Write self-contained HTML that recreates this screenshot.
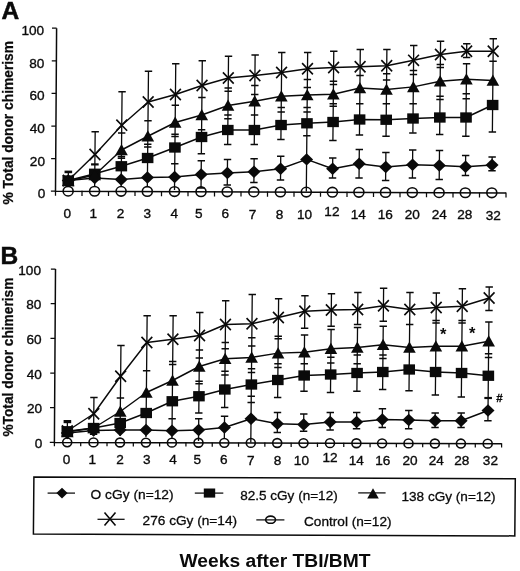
<!DOCTYPE html>
<html><head><meta charset="utf-8"><title>Figure</title>
<style>html,body{margin:0;padding:0;background:#fff;}body{width:520px;height:571px;overflow:hidden;}svg{display:block;will-change:transform;opacity:0.999;}text{font-family:"Liberation Sans",sans-serif;fill:#0a0a0a;}.tk{font-size:13.6px;stroke:#0a0a0a;stroke-width:0.35px;}.lg{font-size:13.5px;stroke:#0a0a0a;stroke-width:0.3px;}.ax{stroke:#0a0a0a;stroke-width:1.5;fill:none;}.ln{stroke:#0a0a0a;stroke-width:1.45;fill:none;stroke-linejoin:round;}.eb{stroke:#0a0a0a;stroke-width:1.3;fill:none;}.cp{stroke:#0a0a0a;stroke-width:1.5;fill:none;}.mk{fill:#0a0a0a;stroke:none;}.xm{stroke:#0a0a0a;stroke-width:1.6;fill:none;}.cm{fill:none;stroke:#0a0a0a;stroke-width:1.6;}</style></head><body>
<svg width="520" height="571" viewBox="0 0 520 571">
<rect x="0" y="0" width="520" height="571" fill="#fff"/>
<g id="panelA">
<path d="M64.54 171.9L72.14 171.9" stroke="#0a0a0a" stroke-width="2.6" fill="none"/>
<path d="M91.06 164.4L98.66 164.4" stroke="#0a0a0a" stroke-width="2.2" fill="none"/>
<path class="eb" d="M68.34 171.9L68.2 186M95.18 131.75L94.65 186M122.07 91.75L121.15 186M148.48 71.25L147.35 186M175.75 63.75L174.51 190M202.28 60.75L201.37 153.75M201.3 160.75L201.03 188M228.52 56.25L227.66 144.5M227.51 159.5L227.26 185M255.13 55L254.26 144.5M254.12 158.75L253.89 182.5M281.76 52.5L280.91 139.5M280.74 156.25L280.51 180M307.66 52.5L306.3 191.5M333.77 51.25L332.9 140.5M332.73 158L332.53 178M360.29 49.5L359.45 135M359.31 149.5L359.03 178M386.89 49.5L386.04 136.25M385.88 152.5L385.6 180.5M413.73 45.4L412.87 132.7M412.7 150L412.43 178M440.57 41.25L439.66 134.5M439.5 150.5L439.21 179.5M466.75 43.75L466.61 57.5M466.55 63.75L465.84 136.25M465.65 155.5L465.45 175.5M493.29 38.75L492.38 132M492.14 157L492 170.75"/>
<path class="cp" d="M91.48 131.75L98.88 131.75M118.37 91.75L125.77 91.75M117.97 133L125.37 133M117.74 156.5L125.14 156.5M117.72 158.3L125.12 158.3M144.78 71.25L152.18 71.25M144.29 120.8L151.69 120.8M144.06 144.2L151.46 144.2M144.03 147.1L151.43 147.1M172.05 63.75L179.45 63.75M171.64 105.2L179.04 105.2M171.36 134.3L178.76 134.3M171.34 136.6L178.74 136.6M171.07 163.75L178.47 163.75M198.58 60.75L205.98 60.75M198.22 97.5L205.62 97.5M197.9 129.7L205.3 129.7M197.67 153.75L205.07 153.75M197.6 160.75L205 160.75M197.33 188L204.73 188M224.82 56.25L232.22 56.25M224.51 88L231.91 88M224.48 91.25L231.88 91.25M224.25 115L231.65 115M224.21 118.75L231.61 118.75M223.96 144.5L231.36 144.5M223.81 159.5L231.21 159.5M223.56 185L230.96 185M251.43 55L258.83 55M251.14 85.5L258.54 85.5M251.05 94.5L258.45 94.5M250.85 115L258.25 115M250.56 144.5L257.96 144.5M250.42 158.75L257.82 158.75M250.19 182.5L257.59 182.5M278.06 52.5L285.46 52.5M277.52 107.5L284.92 107.5M277.48 112L284.88 112M277.21 139.5L284.61 139.5M277.04 156.25L284.44 156.25M276.81 180L284.21 180M303.96 52.5L311.36 52.5M303.69 79.5L311.09 79.5M303.62 87.5L311.02 87.5M303.42 107.5L310.82 107.5M303.38 112L310.78 112M303.14 135.75L310.54 135.75M330.07 51.25L337.47 51.25M329.78 81.25L337.18 81.25M329.75 84.5L337.15 84.5M329.56 103.75L336.96 103.75M329.53 106.25L336.93 106.25M329.2 140.5L336.6 140.5M329.03 158L336.43 158M328.83 178L336.23 178M356.59 49.5L363.99 49.5M356.33 75.5L363.73 75.5M356.06 103.75L363.46 103.75M355.75 135L363.15 135M355.61 149.5L363.01 149.5M355.33 178L362.73 178M383.19 49.5L390.59 49.5M382.95 73.75L390.35 73.75M382.89 80L390.29 80M382.66 103.75L390.06 103.75M382.34 136.25L389.74 136.25M382.18 152.5L389.58 152.5M381.9 180.5L389.3 180.5M410.03 45.4L417.43 45.4M409.78 70.6L417.18 70.6M409.74 74.4L417.14 74.4M409.46 103.7L416.86 103.7M409.17 132.9L416.57 132.9M409 150L416.4 150M408.73 178L416.13 178M436.87 41.25L444.27 41.25M436.64 64.5L444.04 64.5M436.61 67.5L444.01 67.5M436.33 96.25L443.73 96.25M436.3 99.5L443.7 99.5M435.96 134.5L443.36 134.5M435.8 150.5L443.2 150.5M435.51 179.5L442.91 179.5M463.05 43.75L470.45 43.75M462.91 57.5L470.31 57.5M462.85 63.75L470.25 63.75M462.56 93.75L469.96 93.75M462.51 98.75L469.91 98.75M462.14 136.25L469.54 136.25M461.95 155.5L469.35 155.5M461.75 175.5L469.15 175.5M489.59 38.75L496.99 38.75M489.37 61.25L496.77 61.25M488.68 132L496.08 132M488.44 157L495.84 157M488.3 170.75L495.7 170.75"/>
<path class="ax" d="M56.6 28.2L55.5 191.2L506 193"/>
<path class="ax" style="stroke-width:1.25" d="M50.9 191.2L55.5 191.2M51.12 158.6L55.72 158.6M51.34 126L55.94 126M51.56 93.4L56.16 93.4M51.78 60.8L56.38 60.8M52 28.2L56.6 28.2M55.5 190.7L55.5 195.8M82 190.81L82 195.91M108.5 190.91L108.5 196.01M135 191.02L135 196.12M161.5 191.12L161.5 196.22M188 191.23L188 196.33M214.5 191.34L214.5 196.44M241 191.44L241 196.54M267.5 191.55L267.5 196.65M294 191.65L294 196.75M320.5 191.76L320.5 196.86M347 191.86L347 196.96M373.5 191.97L373.5 197.07M400 192.08L400 197.18M426.5 192.18L426.5 197.28M453 192.29L453 197.39M479.5 192.39L479.5 197.49M506 192.5L506 197.6"/>
<text class="tk" x="45.2" y="198.1" text-anchor="end">0</text>
<text class="tk" x="44.98" y="165.5" text-anchor="end">20</text>
<text class="tk" x="44.76" y="132.9" text-anchor="end">40</text>
<text class="tk" x="44.54" y="100.3" text-anchor="end">60</text>
<text class="tk" x="44.32" y="67.7" text-anchor="end">80</text>
<text class="tk" x="44.1" y="35.1" text-anchor="end">100</text>
<text class="tk" x="67.3" y="217.85" text-anchor="middle">0</text>
<text class="tk" x="93.2" y="217.95" text-anchor="middle">1</text>
<text class="tk" x="120.5" y="218.06" text-anchor="middle">2</text>
<text class="tk" x="147.4" y="218.17" text-anchor="middle">3</text>
<text class="tk" x="174.4" y="218.28" text-anchor="middle">4</text>
<text class="tk" x="198.9" y="218.37" text-anchor="middle">5</text>
<text class="tk" x="225.2" y="218.48" text-anchor="middle">6</text>
<text class="tk" x="252.5" y="218.59" text-anchor="middle">7</text>
<text class="tk" x="279.5" y="218.7" text-anchor="middle">8</text>
<text class="tk" x="304.6" y="218.8" text-anchor="middle">10</text>
<text class="tk" x="331.9" y="215.6" text-anchor="middle">12</text>
<text class="tk" x="358.2" y="219.01" text-anchor="middle">14</text>
<text class="tk" x="385.3" y="219.12" text-anchor="middle">16</text>
<text class="tk" x="412.3" y="219.23" text-anchor="middle">20</text>
<text class="tk" x="439.3" y="219.33" text-anchor="middle">24</text>
<text class="tk" x="464.8" y="219.44" text-anchor="middle">28</text>
<text class="tk" x="493.3" y="219.55" text-anchor="middle">32</text>
<polyline class="ln" points="68.25,180.5 94.73,178 121.21,179.5 147.43,177.5 174.64,177 201.16,174.5 227.38,173 253.99,171.75 280.62,168.75 306.61,159.4 332.62,168.75 359.17,163.75 385.74,167 412.56,164.7 439.35,165.5 465.54,166.75 492.06,165"/>
<path class="mk" d="M61.75 180.5L68.25 174.3L74.75 180.5L68.25 186.7Z"/>
<path class="mk" d="M88.23 178L94.73 171.8L101.23 178L94.73 184.2Z"/>
<path class="mk" d="M114.71 179.5L121.21 173.3L127.71 179.5L121.21 185.7Z"/>
<path class="mk" d="M140.93 177.5L147.43 171.3L153.93 177.5L147.43 183.7Z"/>
<path class="mk" d="M168.14 177L174.64 170.8L181.14 177L174.64 183.2Z"/>
<path class="mk" d="M194.66 174.5L201.16 168.3L207.66 174.5L201.16 180.7Z"/>
<path class="mk" d="M220.88 173L227.38 166.8L233.88 173L227.38 179.2Z"/>
<path class="mk" d="M247.49 171.75L253.99 165.55L260.49 171.75L253.99 177.95Z"/>
<path class="mk" d="M274.12 168.75L280.62 162.55L287.12 168.75L280.62 174.95Z"/>
<path class="mk" d="M300.11 159.4L306.61 153.2L313.11 159.4L306.61 165.6Z"/>
<path class="mk" d="M326.12 168.75L332.62 162.55L339.12 168.75L332.62 174.95Z"/>
<path class="mk" d="M352.67 163.75L359.17 157.55L365.67 163.75L359.17 169.95Z"/>
<path class="mk" d="M379.24 167L385.74 160.8L392.24 167L385.74 173.2Z"/>
<path class="mk" d="M406.06 164.7L412.56 158.5L419.06 164.7L412.56 170.9Z"/>
<path class="mk" d="M432.85 165.5L439.35 159.3L445.85 165.5L439.35 171.7Z"/>
<path class="mk" d="M459.04 166.75L465.54 160.55L472.04 166.75L465.54 172.95Z"/>
<path class="mk" d="M485.56 165L492.06 158.8L498.56 165L492.06 171.2Z"/>
<polyline class="ln" points="68.25,180.5 94.77,173.75 121.34,166.25 147.63,158 174.93,147.5 201.53,137 227.8,130 254.4,130 281.05,125 306.97,123.3 333.08,122 359.6,119.5 386.2,119.75 413.01,118.5 439.82,117.5 466.02,117.5 492.64,105"/>
<rect class="mk" x="62.45" y="175.35" width="11.6" height="10.3"/>
<rect class="mk" x="88.97" y="168.6" width="11.6" height="10.3"/>
<rect class="mk" x="115.54" y="161.1" width="11.6" height="10.3"/>
<rect class="mk" x="141.83" y="152.85" width="11.6" height="10.3"/>
<rect class="mk" x="169.13" y="142.35" width="11.6" height="10.3"/>
<rect class="mk" x="195.73" y="131.85" width="11.6" height="10.3"/>
<rect class="mk" x="222" y="124.85" width="11.6" height="10.3"/>
<rect class="mk" x="248.6" y="124.85" width="11.6" height="10.3"/>
<rect class="mk" x="275.25" y="119.85" width="11.6" height="10.3"/>
<rect class="mk" x="301.17" y="118.15" width="11.6" height="10.3"/>
<rect class="mk" x="327.28" y="116.85" width="11.6" height="10.3"/>
<rect class="mk" x="353.8" y="114.35" width="11.6" height="10.3"/>
<rect class="mk" x="380.4" y="114.6" width="11.6" height="10.3"/>
<rect class="mk" x="407.21" y="113.35" width="11.6" height="10.3"/>
<rect class="mk" x="434.02" y="112.35" width="11.6" height="10.3"/>
<rect class="mk" x="460.22" y="112.35" width="11.6" height="10.3"/>
<rect class="mk" x="486.84" y="99.85" width="11.6" height="10.3"/>
<polyline class="ln" points="68.25,181 94.76,175 121.5,150 147.84,136.25 175.17,122.5 201.75,115 228.04,105.5 254.68,101.25 281.33,96.25 307.24,95 333.35,94.25 359.91,88 386.5,89.5 413.32,86.9 440.18,81.25 466.4,79.25 492.88,80.5"/>
<path class="mk" d="M68.25 175.1L74.55 186.3L61.95 186.3Z"/>
<path class="mk" d="M94.76 169.1L101.06 180.3L88.46 180.3Z"/>
<path class="mk" d="M121.5 144.1L127.8 155.3L115.2 155.3Z"/>
<path class="mk" d="M147.84 130.35L154.14 141.55L141.54 141.55Z"/>
<path class="mk" d="M175.17 116.6L181.47 127.8L168.87 127.8Z"/>
<path class="mk" d="M201.75 109.1L208.05 120.3L195.45 120.3Z"/>
<path class="mk" d="M228.04 99.6L234.34 110.8L221.74 110.8Z"/>
<path class="mk" d="M254.68 95.35L260.98 106.55L248.38 106.55Z"/>
<path class="mk" d="M281.33 90.35L287.63 101.55L275.03 101.55Z"/>
<path class="mk" d="M307.24 89.1L313.54 100.3L300.94 100.3Z"/>
<path class="mk" d="M333.35 88.35L339.65 99.55L327.05 99.55Z"/>
<path class="mk" d="M359.91 82.1L366.21 93.3L353.61 93.3Z"/>
<path class="mk" d="M386.5 83.6L392.8 94.8L380.2 94.8Z"/>
<path class="mk" d="M413.32 81L419.62 92.2L407.02 92.2Z"/>
<path class="mk" d="M440.18 75.35L446.48 86.55L433.88 86.55Z"/>
<path class="mk" d="M466.4 73.35L472.7 84.55L460.1 84.55Z"/>
<path class="mk" d="M492.88 74.6L499.18 85.8L486.58 85.8Z"/>
<polyline class="ln" points="68.25,180.5 94.96,154.5 121.75,125.2 148.17,102 175.45,94.5 202.04,85.5 228.31,78 254.93,75.5 281.56,72.5 307.5,68.75 333.61,67.5 360.12,66.75 386.73,65.75 413.58,60.3 440.44,54.5 466.67,51.25 493.17,51.25"/>
<path class="xm" d="M62.85 174.9L73.65 186.1M73.65 174.9L62.85 186.1"/>
<path class="xm" d="M89.56 148.9L100.36 160.1M100.36 148.9L89.56 160.1"/>
<path class="xm" d="M116.35 119.6L127.15 130.8M127.15 119.6L116.35 130.8"/>
<path class="xm" d="M142.77 96.4L153.57 107.6M153.57 96.4L142.77 107.6"/>
<path class="xm" d="M170.05 88.9L180.85 100.1M180.85 88.9L170.05 100.1"/>
<path class="xm" d="M196.64 79.9L207.44 91.1M207.44 79.9L196.64 91.1"/>
<path class="xm" d="M222.91 72.4L233.71 83.6M233.71 72.4L222.91 83.6"/>
<path class="xm" d="M249.53 69.9L260.33 81.1M260.33 69.9L249.53 81.1"/>
<path class="xm" d="M276.16 66.9L286.96 78.1M286.96 66.9L276.16 78.1"/>
<path class="xm" d="M302.1 63.15L312.9 74.35M312.9 63.15L302.1 74.35"/>
<path class="xm" d="M328.21 61.9L339.01 73.1M339.01 61.9L328.21 73.1"/>
<path class="xm" d="M354.72 61.15L365.52 72.35M365.52 61.15L354.72 72.35"/>
<path class="xm" d="M381.33 60.15L392.13 71.35M392.13 60.15L381.33 71.35"/>
<path class="xm" d="M408.18 54.7L418.98 65.9M418.98 54.7L408.18 65.9"/>
<path class="xm" d="M435.04 48.9L445.84 60.1M445.84 48.9L435.04 60.1"/>
<path class="xm" d="M461.27 45.65L472.07 56.85M472.07 45.65L461.27 56.85"/>
<path class="xm" d="M487.77 45.65L498.57 56.85M498.57 45.65L487.77 56.85"/>
<ellipse class="cm" cx="68.15" cy="191.15" rx="5" ry="4.8"/>
<ellipse class="cm" cx="94.6" cy="191.26" rx="5" ry="4.8"/>
<ellipse class="cm" cx="121.1" cy="191.36" rx="5" ry="4.8"/>
<ellipse class="cm" cx="147.3" cy="191.47" rx="5" ry="4.8"/>
<ellipse class="cm" cx="174.5" cy="191.58" rx="5" ry="4.8"/>
<ellipse class="cm" cx="201" cy="191.68" rx="5" ry="4.8"/>
<ellipse class="cm" cx="227.2" cy="191.79" rx="5" ry="4.8"/>
<ellipse class="cm" cx="253.8" cy="191.89" rx="5" ry="4.8"/>
<ellipse class="cm" cx="280.4" cy="192" rx="5" ry="4.8"/>
<ellipse class="cm" cx="306.3" cy="192.1" rx="5" ry="4.8"/>
<ellipse class="cm" cx="332.4" cy="192.21" rx="5" ry="4.8"/>
<ellipse class="cm" cx="358.9" cy="192.31" rx="5" ry="4.8"/>
<ellipse class="cm" cx="385.5" cy="192.42" rx="5" ry="4.8"/>
<ellipse class="cm" cx="412.3" cy="192.53" rx="5" ry="4.8"/>
<ellipse class="cm" cx="439.1" cy="192.63" rx="5" ry="4.8"/>
<ellipse class="cm" cx="465.3" cy="192.74" rx="5" ry="4.8"/>
<ellipse class="cm" cx="491.8" cy="192.84" rx="5" ry="4.8"/>
</g>
<g id="panelB">
<path d="M63.6 421.6L71.2 421.6" stroke="#0a0a0a" stroke-width="3.2" fill="none"/>
<path d="M484.34 398L491.94 398" stroke="#0a0a0a" stroke-width="2.2" fill="none"/>
<path class="eb" d="M67.4 421.6L67.24 438M93.94 397.4L93.56 436M120.95 345.5L120.06 436M147.14 315.75L145.95 437M173.14 315.75L171.94 438M199.77 312.5L198.79 413M198.73 418.75L198.51 441M225.69 300.75L224.64 407.5M224.56 416.25L224.33 439M252.25 294.5L250.8 442.5M278.61 298.75L277.64 397.5M277.49 412.5L277.3 432.5M304.94 295.75L304.62 328.25M304.55 335L304 391.25M303.78 414L303.61 431.25M331.46 293.75L331.14 326.25M331.11 329.5L330.49 392.5M330.29 412.5L330.12 430M357.87 292.5L357.56 324.5M357.53 327.5L356.9 391.25M356.69 412.5L356.53 428.75M383.61 288.25L383.29 321.25M383.24 326.25L382.62 389.5M382.43 408.75L382.25 427.5M409.97 292.5L409.01 390.75M408.81 410.5L408.63 428.75M436.36 293L435.36 395M435.19 413L435.05 427.5M462.41 288.75L461.34 397M461.19 413L461.05 427.5M489.22 287L488.99 310.5M488.88 322L487.91 420.75"/>
<path class="cp" d="M90.24 397.4L97.64 397.4M89.88 434.2L97.28 434.2M117.25 345.5L124.65 345.5M116.73 398.1L124.13 398.1M143.44 315.75L150.84 315.75M142.9 370.75L150.3 370.75M169.44 315.75L176.84 315.75M168.99 361.5L176.39 361.5M168.96 364.5L176.36 364.5M168.43 418.75L175.83 418.75M196.07 312.5L203.47 312.5M195.71 350L203.11 350M195.63 358L203.03 358M195.4 381.25L202.8 381.25M195.37 383.75L202.77 383.75M195.09 413L202.49 413M195.03 418.75L202.43 418.75M221.99 300.75L229.39 300.75M221.58 342.5L228.98 342.5M221.52 348.75L228.92 348.75M221.3 371.25L228.7 371.25M221.26 375L228.66 375M220.94 407.5L228.34 407.5M220.86 416.25L228.26 416.25M248.55 294.5L255.95 294.5M248.13 337.8L255.53 337.8M248.04 346L255.44 346M247.82 368.7L255.22 368.7M247.79 372.5L255.19 372.5M247.55 396.25L254.95 396.25M247.49 402.5L254.89 402.5M274.91 298.75L282.31 298.75M274.54 336.25L281.94 336.25M274.52 338.75L281.92 338.75M274.27 363.75L281.67 363.75M274.23 367.5L281.63 367.5M273.94 397.5L281.34 397.5M273.79 412.5L281.19 412.5M273.6 432.5L281 432.5M301.24 295.75L308.64 295.75M300.92 328.25L308.32 328.25M300.85 335L308.25 335M300.57 363.75L307.97 363.75M300.3 391.25L307.7 391.25M300.08 414L307.48 414M299.91 431.25L307.31 431.25M327.76 293.75L335.16 293.75M327.44 326.25L334.84 326.25M327.41 329.5L334.81 329.5M327.13 357.3L334.53 357.3M327.08 363L334.48 363M326.79 392.5L334.19 392.5M326.59 412.5L333.99 412.5M326.42 430L333.82 430M354.17 292.5L361.57 292.5M353.86 324.5L361.26 324.5M353.83 327.5L361.23 327.5M353.56 355L360.96 355M353.47 363.75L360.87 363.75M353.2 391.25L360.6 391.25M352.99 412.5L360.39 412.5M352.83 428.75L360.23 428.75M379.91 288.25L387.31 288.25M379.59 321.25L386.99 321.25M379.54 326.25L386.94 326.25M379.26 355L386.66 355M379.22 358.5L386.62 358.5M378.92 389.5L386.32 389.5M378.73 408.75L386.13 408.75M378.55 427.5L385.95 427.5M406.27 292.5L413.67 292.5M405.96 324.5L413.36 324.5M405.31 390.75L412.71 390.75M405.11 410.5L412.51 410.5M404.93 428.75L412.33 428.75M432.66 293L440.06 293M432.39 320.5L439.79 320.5M432.37 323L439.77 323M431.66 395L439.06 395M431.49 413L438.89 413M431.35 427.5L438.75 427.5M458.71 288.75L466.11 288.75M458.39 320.5L465.79 320.5M458.37 323L465.77 323M457.64 397L465.04 397M457.49 413L464.89 413M457.35 427.5L464.75 427.5M485.52 287L492.92 287M485.29 310.5L492.69 310.5M485.18 322L492.58 322M484.87 353.75L492.27 353.75M484.83 357.5L492.23 357.5M484.21 420.75L491.61 420.75"/>
<path class="ax" d="M55.5 269L54.4 442.4L501.6 443.8"/>
<path class="ax" style="stroke-width:1.25" d="M49.8 442.4L54.4 442.4M50.02 407.72L54.62 407.72M50.24 373.04L54.84 373.04M50.46 338.36L55.06 338.36M50.68 303.68L55.28 303.68M50.9 269L55.5 269M54.4 441.9L54.4 446.2M80.71 441.98L80.71 446.28M107.01 442.06L107.01 446.36M133.32 442.15L133.32 446.45M159.62 442.23L159.62 446.53M185.93 442.31L185.93 446.61M212.24 442.39L212.24 446.69M238.54 442.48L238.54 446.78M264.85 442.56L264.85 446.86M291.15 442.64L291.15 446.94M317.46 442.72L317.46 447.02M343.76 442.81L343.76 447.11M370.07 442.89L370.07 447.19M396.38 442.97L396.38 447.27M422.68 443.05L422.68 447.35M448.99 443.14L448.99 447.44M475.29 443.22L475.29 447.52M501.6 443.3L501.6 447.6"/>
<text class="tk" x="42.4" y="448.1" text-anchor="end">0</text>
<text class="tk" x="42.12" y="413.42" text-anchor="end">20</text>
<text class="tk" x="41.84" y="378.74" text-anchor="end">40</text>
<text class="tk" x="41.56" y="344.06" text-anchor="end">60</text>
<text class="tk" x="41.28" y="309.38" text-anchor="end">80</text>
<text class="tk" x="41" y="274.7" text-anchor="end">100</text>
<text class="tk" x="66.6" y="463.94" text-anchor="middle">0</text>
<text class="tk" x="92.3" y="464.02" text-anchor="middle">1</text>
<text class="tk" x="120" y="464.11" text-anchor="middle">2</text>
<text class="tk" x="146.7" y="464.19" text-anchor="middle">3</text>
<text class="tk" x="173" y="464.27" text-anchor="middle">4</text>
<text class="tk" x="197.2" y="464.35" text-anchor="middle">5</text>
<text class="tk" x="223.9" y="464.43" text-anchor="middle">6</text>
<text class="tk" x="250.8" y="464.51" text-anchor="middle">7</text>
<text class="tk" x="277.5" y="464.6" text-anchor="middle">8</text>
<text class="tk" x="301.4" y="464.67" text-anchor="middle">10</text>
<text class="tk" x="330" y="462.16" text-anchor="middle">12</text>
<text class="tk" x="356.3" y="464.85" text-anchor="middle">14</text>
<text class="tk" x="382.8" y="464.93" text-anchor="middle">16</text>
<text class="tk" x="410" y="465.01" text-anchor="middle">20</text>
<text class="tk" x="436.3" y="465.1" text-anchor="middle">24</text>
<text class="tk" x="461.8" y="465.18" text-anchor="middle">28</text>
<text class="tk" x="490.4" y="465.26" text-anchor="middle">32</text>
<polyline class="ln" points="67.29,433 93.62,430.5 120.12,430 146.02,430 172.01,430.75 198.62,430 224.45,427.5 251.03,418.75 277.38,423.75 303.68,424.5 330.2,422 356.6,422 382.32,419.5 408.72,420 435.11,420.75 461.11,420.75 488.01,410.5"/>
<path class="mk" d="M60.79 433L67.29 426.8L73.79 433L67.29 439.2Z"/>
<path class="mk" d="M87.12 430.5L93.62 424.3L100.12 430.5L93.62 436.7Z"/>
<path class="mk" d="M113.62 430L120.12 423.8L126.62 430L120.12 436.2Z"/>
<path class="mk" d="M139.52 430L146.02 423.8L152.52 430L146.02 436.2Z"/>
<path class="mk" d="M165.51 430.75L172.01 424.55L178.51 430.75L172.01 436.95Z"/>
<path class="mk" d="M192.12 430L198.62 423.8L205.12 430L198.62 436.2Z"/>
<path class="mk" d="M217.95 427.5L224.45 421.3L230.95 427.5L224.45 433.7Z"/>
<path class="mk" d="M244.53 418.75L251.03 412.55L257.53 418.75L251.03 424.95Z"/>
<path class="mk" d="M270.88 423.75L277.38 417.55L283.88 423.75L277.38 429.95Z"/>
<path class="mk" d="M297.18 424.5L303.68 418.3L310.18 424.5L303.68 430.7Z"/>
<path class="mk" d="M323.7 422L330.2 415.8L336.7 422L330.2 428.2Z"/>
<path class="mk" d="M350.1 422L356.6 415.8L363.1 422L356.6 428.2Z"/>
<path class="mk" d="M375.82 419.5L382.32 413.3L388.82 419.5L382.32 425.7Z"/>
<path class="mk" d="M402.22 420L408.72 413.8L415.22 420L408.72 426.2Z"/>
<path class="mk" d="M428.61 420.75L435.11 414.55L441.61 420.75L435.11 426.95Z"/>
<path class="mk" d="M454.61 420.75L461.11 414.55L467.61 420.75L461.11 426.95Z"/>
<path class="mk" d="M481.51 410.5L488.01 404.3L494.51 410.5L488.01 416.7Z"/>
<polyline class="ln" points="67.31,431.25 93.64,428 120.19,423 146.19,413 172.3,401.25 198.95,396.25 224.82,389.5 251.37,384.5 277.81,380 304.16,375.5 330.67,374.5 357.08,373 382.79,372 409.21,369.5 435.59,372 461.58,373 488.35,375.75"/>
<rect class="mk" x="61.51" y="426.1" width="11.6" height="10.3"/>
<rect class="mk" x="87.84" y="422.85" width="11.6" height="10.3"/>
<rect class="mk" x="114.39" y="417.85" width="11.6" height="10.3"/>
<rect class="mk" x="140.39" y="407.85" width="11.6" height="10.3"/>
<rect class="mk" x="166.5" y="396.1" width="11.6" height="10.3"/>
<rect class="mk" x="193.15" y="391.1" width="11.6" height="10.3"/>
<rect class="mk" x="219.02" y="384.35" width="11.6" height="10.3"/>
<rect class="mk" x="245.57" y="379.35" width="11.6" height="10.3"/>
<rect class="mk" x="272.01" y="374.85" width="11.6" height="10.3"/>
<rect class="mk" x="298.36" y="370.35" width="11.6" height="10.3"/>
<rect class="mk" x="324.87" y="369.35" width="11.6" height="10.3"/>
<rect class="mk" x="351.28" y="367.85" width="11.6" height="10.3"/>
<rect class="mk" x="376.99" y="366.85" width="11.6" height="10.3"/>
<rect class="mk" x="403.41" y="364.35" width="11.6" height="10.3"/>
<rect class="mk" x="429.79" y="366.85" width="11.6" height="10.3"/>
<rect class="mk" x="455.78" y="367.85" width="11.6" height="10.3"/>
<rect class="mk" x="482.55" y="370.6" width="11.6" height="10.3"/>
<polyline class="ln" points="67.3,432 93.64,428 120.3,411.5 146.39,392.5 172.51,380.5 199.24,366.5 225.12,358.75 251.63,357.5 278.08,353.1 304.38,352.2 330.92,348.75 357.33,347.5 383.06,344.75 409.43,347.5 435.84,346.25 461.84,346.25 488.69,341.25"/>
<path class="mk" d="M67.3 426.1L73.6 437.3L61 437.3Z"/>
<path class="mk" d="M93.64 422.1L99.94 433.3L87.34 433.3Z"/>
<path class="mk" d="M120.3 405.6L126.6 416.8L114 416.8Z"/>
<path class="mk" d="M146.39 386.6L152.69 397.8L140.09 397.8Z"/>
<path class="mk" d="M172.51 374.6L178.81 385.8L166.21 385.8Z"/>
<path class="mk" d="M199.24 360.6L205.54 371.8L192.94 371.8Z"/>
<path class="mk" d="M225.12 352.85L231.42 364.05L218.82 364.05Z"/>
<path class="mk" d="M251.63 351.6L257.93 362.8L245.33 362.8Z"/>
<path class="mk" d="M278.08 347.2L284.38 358.4L271.78 358.4Z"/>
<path class="mk" d="M304.38 346.3L310.68 357.5L298.08 357.5Z"/>
<path class="mk" d="M330.92 342.85L337.22 354.05L324.62 354.05Z"/>
<path class="mk" d="M357.33 341.6L363.63 352.8L351.03 352.8Z"/>
<path class="mk" d="M383.06 338.85L389.36 350.05L376.76 350.05Z"/>
<path class="mk" d="M409.43 341.6L415.73 352.8L403.13 352.8Z"/>
<path class="mk" d="M435.84 340.35L442.14 351.55L429.54 351.55Z"/>
<path class="mk" d="M461.84 340.35L468.14 351.55L455.54 351.55Z"/>
<path class="mk" d="M488.69 335.35L494.99 346.55L482.39 346.55Z"/>
<polyline class="ln" points="67.31,431 93.78,413.75 120.65,376.25 146.88,342.5 172.91,339.25 199.55,335.5 225.46,324.5 251.96,323.75 278.42,317.5 304.79,311.25 331.3,310 357.7,309.5 383.44,305.75 409.8,309.5 436.22,307.5 462.23,306.25 489.12,298"/>
<path class="xm" d="M61.91 425.4L72.71 436.6M72.71 425.4L61.91 436.6"/>
<path class="xm" d="M88.38 408.15L99.18 419.35M99.18 408.15L88.38 419.35"/>
<path class="xm" d="M115.25 370.65L126.05 381.85M126.05 370.65L115.25 381.85"/>
<path class="xm" d="M141.48 336.9L152.28 348.1M152.28 336.9L141.48 348.1"/>
<path class="xm" d="M167.51 333.65L178.31 344.85M178.31 333.65L167.51 344.85"/>
<path class="xm" d="M194.15 329.9L204.95 341.1M204.95 329.9L194.15 341.1"/>
<path class="xm" d="M220.06 318.9L230.86 330.1M230.86 318.9L220.06 330.1"/>
<path class="xm" d="M246.56 318.15L257.36 329.35M257.36 318.15L246.56 329.35"/>
<path class="xm" d="M273.02 311.9L283.82 323.1M283.82 311.9L273.02 323.1"/>
<path class="xm" d="M299.39 305.65L310.19 316.85M310.19 305.65L299.39 316.85"/>
<path class="xm" d="M325.9 304.4L336.7 315.6M336.7 304.4L325.9 315.6"/>
<path class="xm" d="M352.3 303.9L363.1 315.1M363.1 303.9L352.3 315.1"/>
<path class="xm" d="M378.04 300.15L388.84 311.35M388.84 300.15L378.04 311.35"/>
<path class="xm" d="M404.4 303.9L415.2 315.1M415.2 303.9L404.4 315.1"/>
<path class="xm" d="M430.82 301.9L441.62 313.1M441.62 301.9L430.82 313.1"/>
<path class="xm" d="M456.83 300.65L467.63 311.85M467.63 300.65L456.83 311.85"/>
<path class="xm" d="M483.72 292.4L494.52 303.6M494.52 292.4L483.72 303.6"/>
<ellipse class="cm" cx="67.2" cy="442.34" rx="4.5" ry="4.4"/>
<ellipse class="cm" cx="93.5" cy="442.42" rx="4.5" ry="4.4"/>
<ellipse class="cm" cx="120" cy="442.51" rx="4.5" ry="4.4"/>
<ellipse class="cm" cx="145.9" cy="442.59" rx="4.5" ry="4.4"/>
<ellipse class="cm" cx="171.9" cy="442.67" rx="4.5" ry="4.4"/>
<ellipse class="cm" cx="198.5" cy="442.75" rx="4.5" ry="4.4"/>
<ellipse class="cm" cx="224.3" cy="442.83" rx="4.5" ry="4.4"/>
<ellipse class="cm" cx="250.8" cy="442.91" rx="4.5" ry="4.4"/>
<ellipse class="cm" cx="277.2" cy="443" rx="4.5" ry="4.4"/>
<ellipse class="cm" cx="303.5" cy="443.08" rx="4.5" ry="4.4"/>
<ellipse class="cm" cx="330" cy="443.16" rx="4.5" ry="4.4"/>
<ellipse class="cm" cx="356.4" cy="443.25" rx="4.5" ry="4.4"/>
<ellipse class="cm" cx="382.1" cy="443.33" rx="4.5" ry="4.4"/>
<ellipse class="cm" cx="408.5" cy="443.41" rx="4.5" ry="4.4"/>
<ellipse class="cm" cx="434.9" cy="443.49" rx="4.5" ry="4.4"/>
<ellipse class="cm" cx="460.9" cy="443.57" rx="4.5" ry="4.4"/>
<ellipse class="cm" cx="487.7" cy="443.66" rx="4.5" ry="4.4"/>
</g>
<text x="1.6" y="18.7" style="font-size:24.5px;font-weight:bold;stroke:#0a0a0a;stroke-width:0.5px">A</text>
<text x="0.5" y="263.5" style="font-size:24.5px;font-weight:bold;stroke:#0a0a0a;stroke-width:0.5px">B</text>
<text transform="translate(12.9,204.6) rotate(-90)" textLength="163.6" lengthAdjust="spacingAndGlyphs" style="font-size:14.5px;font-weight:bold;stroke:#0a0a0a;stroke-width:0.25px">% Total donor chimerism</text>
<text transform="translate(13.0,436.6) rotate(-90)" textLength="159" lengthAdjust="spacingAndGlyphs" style="font-size:14.5px;font-weight:bold;stroke:#0a0a0a;stroke-width:0.25px">%Total donor chimerism</text>
<text x="443.2" y="339.8" text-anchor="middle" style="font-size:16.5px;font-weight:bold">*</text>
<text x="472.2" y="338.6" text-anchor="middle" style="font-size:16.5px;font-weight:bold">*</text>
<text x="499.4" y="402.2" text-anchor="middle" style="font-size:11.5px;font-weight:bold;stroke:#0a0a0a;stroke-width:0.3px">#</text>
<path d="M33.9 476.9L515.3 478.7L514.8 535.9L33.4 534.1Z" fill="#fff" stroke="#0a0a0a" stroke-width="1.5"/>
<path d="M47.6 493.1L75 493.1" stroke="#0a0a0a" stroke-width="1.25" fill="none"/>
<path class="mk" d="M56.4 493.1L62 487.8L67.6 493.1L62 498.4Z"/>
<text x="90.6" y="498.8" textLength="83" lengthAdjust="spacingAndGlyphs" class="lg">O cGy (n=12)</text>
<path d="M194.8 493.1L223.3 493.1" stroke="#0a0a0a" stroke-width="1.25" fill="none"/>
<rect class="mk" x="203.8" y="488.5" width="11.4" height="9.1"/>
<text x="240.2" y="499.6" textLength="97.5" lengthAdjust="spacingAndGlyphs" class="lg">82.5 cGy (n=12)</text>
<path d="M358.2 492.9L385.6 492.9" stroke="#0a0a0a" stroke-width="1.25" fill="none"/>
<path class="mk" d="M373 488.3L378.8 498.6L367.2 498.6Z"/>
<text x="401.5" y="500.8" textLength="94" lengthAdjust="spacingAndGlyphs" class="lg">138 cGy (n=12)</text>
<path d="M97.5 519.3L124.6 519.3" stroke="#0a0a0a" stroke-width="1.25" fill="none"/>
<path class="xm" d="M104.5 512.6L115.5 525.6M115.5 512.6L104.5 525.6"/>
<text x="142.6" y="525.1" textLength="94.5" lengthAdjust="spacingAndGlyphs" class="lg">276 cGy (n=14)</text>
<path d="M256.3 519.9L284.4 519.9" stroke="#0a0a0a" stroke-width="1.25" fill="none"/>
<ellipse class="cm" cx="270.6" cy="519.7" rx="4.9" ry="3.6"/>
<text x="304" y="525.6" textLength="87.5" lengthAdjust="spacingAndGlyphs" class="lg">Control (n=12)</text>
<text x="179.5" y="567" textLength="191" lengthAdjust="spacingAndGlyphs" style="font-size:18.8px;font-weight:bold">Weeks after TBI/BMT</text>
</svg></body></html>
